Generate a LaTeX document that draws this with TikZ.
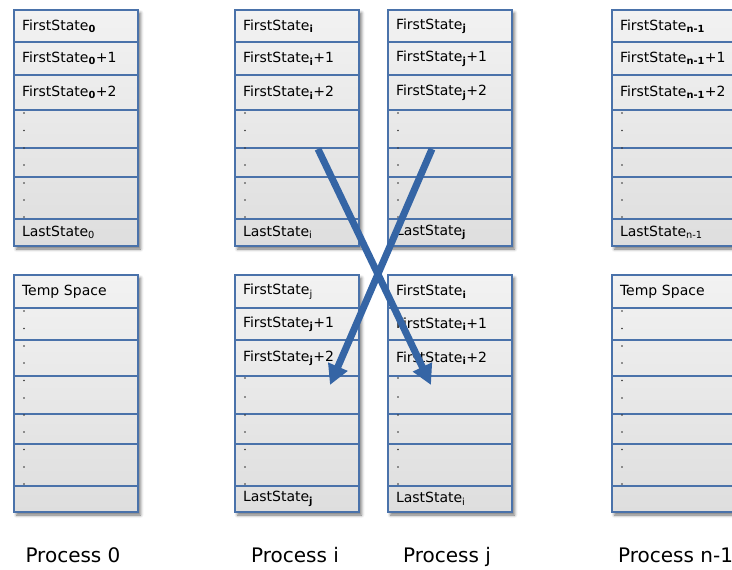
\documentclass[tikz,border=0pt]{standalone}
\usepackage{fontspec}
\setmainfont{DejaVu Sans}
\usetikzlibrary{arrows.meta,shadows.blur}
\definecolor{bline}{HTML}{4A72AA}
\definecolor{arr}{HTML}{3565A5}
\definecolor{gtop}{HTML}{F2F2F2}
\definecolor{gbot}{HTML}{DEDEDE}
\definecolor{dotc}{HTML}{333333}
\newcommand\sbb[1]{\textsubscript{\bfseries #1}}
\newcommand\sbr[1]{\textsubscript{#1}}
\tikzset{
  cellbox/.style={draw=bline, line width=1.3pt, rectangle, outer sep=0pt,
    minimum width=124pt, text width=108pt, inner xsep=8pt, inner ysep=0pt,
    align=left, font=\fontsize{14}{16}\selectfont, text=black},
  blockbg/.style={top color=gtop, bottom color=gbot,
    blur shadow={shadow xshift=2.5pt, shadow yshift=-3pt, shadow blur radius=3pt, shadow opacity=55}},
  bigarrow/.style={draw=arr, line width=7pt, -{Triangle[length=20pt,width=20pt]}},
  plabel/.style={font=\fontsize{20}{24}\selectfont, text=black, inner sep=0pt}
}
\newcommand\cellbox[5]{\node[cellbox, minimum height={(#4)-(#3)}, anchor=north west] (#1) at (#2,#3) {#5};}
\newcommand\blockbg[3]{\path[blockbg] (#1,#2) rectangle ({#1+124},#3);}
\newcommand\dotcol[2]{\foreach \yy in {#2} {\fill[dotc] ({#1},\yy) circle (0.85pt);}}
\newcommand\topblock[4]{%
  \blockbg{#2}{10}{246}
  \cellbox{#1a}{#2}{10}{42}{FirstState#3}
  \cellbox{#1b}{#2}{42}{75}{FirstState#3+1}
  \cellbox{#1c}{#2}{75}{110}{FirstState#3+2}
  \cellbox{#1d}{#2}{110}{148}{}
  \cellbox{#1e}{#2}{148}{177}{}
  \cellbox{#1f}{#2}{177}{219}{}
  \cellbox{#1g}{#2}{219}{246}{LastState#4}
  \dotcol{#2+10}{113,130.5,148,165,183,200,217}
}
\newcommand\swapblock[5]{%
  \blockbg{#2}{275}{512}
  \cellbox{#1a}{#2}{275}{308}{FirstState#3}
  \cellbox{#1b}{#2}{308}{340}{FirstState#4+1}
  \cellbox{#1c}{#2}{340}{376}{FirstState#4+2}
  \cellbox{#1d}{#2}{376}{414}{}
  \cellbox{#1e}{#2}{414}{444}{}
  \cellbox{#1f}{#2}{444}{486}{}
  \cellbox{#1g}{#2}{486}{512}{LastState#5}
  \dotcol{#2+10}{378,397,415,432,449.5,467,484}
}
\newcommand\tempblock[2]{%
  \blockbg{#2}{275}{512}
  \cellbox{#1a}{#2}{275}{308}{Temp Space}
  \cellbox{#1b}{#2}{308}{340}{}
  \cellbox{#1c}{#2}{340}{376}{}
  \cellbox{#1d}{#2}{376}{414}{}
  \cellbox{#1e}{#2}{414}{444}{}
  \cellbox{#1f}{#2}{444}{486}{}
  \cellbox{#1g}{#2}{486}{512}{}
  \dotcol{#2+10}{311,328.5,346,363,380.5,398,415,432,449.5,467,484}
}
\begin{document}
\begin{tikzpicture}[x=1pt,y=-1pt]
\useasboundingbox (0,0) rectangle (732,570);
% top blocks
\topblock{zt}{14}{\sbb{0}}{\sbr{0}}
\topblock{it}{235}{\sbb{i}}{\sbr{i}}
\topblock{jt}{388}{\sbb{j}}{\sbb{j}}
\topblock{nt}{612}{\sbb{n-1}}{\sbr{n-1}}
% bottom blocks
\tempblock{zb}{14}
\swapblock{ib}{235}{\sbr{j}}{\sbb{j}}{\sbb{j}}
\swapblock{jb}{388}{\sbb{i}}{\sbb{i}}{\sbr{i}}
\tempblock{nb}{612}
% arrows
\coordinate (a1s) at (318,149);
\coordinate (a1e) at (431,385);
\coordinate (a2s) at (432,149);
\coordinate (a2e) at (330,385);
\draw[bigarrow] (a1s) -- (a1e);
\draw[bigarrow] (a2s) -- (a2e);
% labels
\node[plabel, anchor=base] (p0) at (73,562) {Process 0};
\node[plabel, anchor=base] (pi) at (295,562) {Process i};
\node[plabel, anchor=base] (pj) at (447,562) {Process j};
\node[plabel, anchor=base west] (pn) at (618,562) {Process n-1};
\end{tikzpicture}
\end{document}
